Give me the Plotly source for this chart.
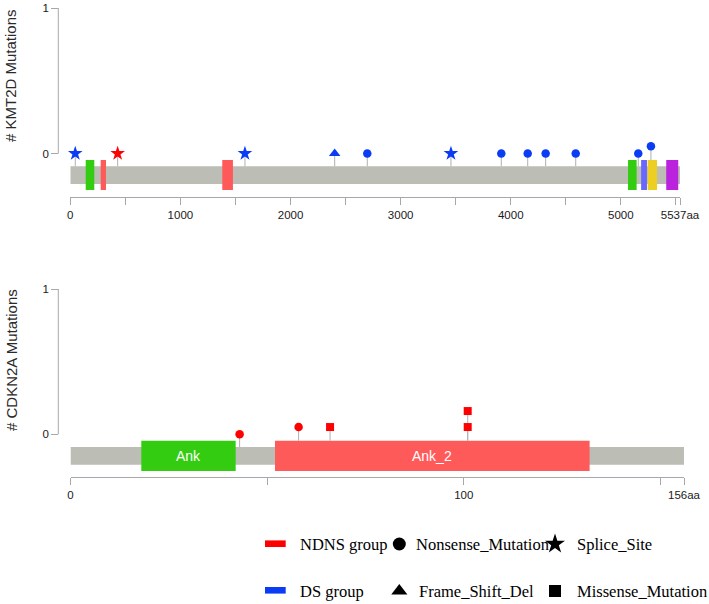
import plotly.graph_objects as go

# ---------------- data ----------------
kmt2d_length = 5537
kmt2d_domain_start = [140, 276, 1380, 5065, 5184, 5243, 5412]
kmt2d_domain_end = [218, 324, 1477, 5143, 5237, 5328, 5521]
kmt2d_domain_name = ["", "", "", "", "", "", ""]
kmt2d_mut_pos = [45, 430, 1586, 2401, 2697, 3457, 3914, 4154, 4317, 4590, 5158, 5273]
kmt2d_mut_type = ["Splice_Site", "Splice_Site", "Splice_Site", "Frame_Shift_Del",
                  "Nonsense_Mutation", "Splice_Site", "Nonsense_Mutation", "Nonsense_Mutation",
                  "Nonsense_Mutation", "Nonsense_Mutation", "Nonsense_Mutation", "Nonsense_Mutation"]
kmt2d_mut_group = ["DS", "NDNS", "DS", "DS", "DS", "DS", "DS", "DS", "DS", "DS", "DS", "DS"]
kmt2d_mut_count = [0, 0, 0, 0, 0, 0, 0, 0, 0, 0, 0, 0.05]
kmt2d_tick_vals = [0, 500, 1000, 1500, 2000, 2500, 3000, 3500, 4000, 4500, 5000, 5500, 5537]
kmt2d_tick_text = ["0", "", "1000", "", "2000", "", "3000", "", "4000", "", "5000", "", "5537aa"]

cdkn2a_length = 156
cdkn2a_domain_start = [18, 52]
cdkn2a_domain_end = [42, 132]
cdkn2a_domain_name = ["Ank", "Ank_2"]
cdkn2a_mut_pos = [43, 58, 66, 101, 101]
cdkn2a_mut_type = ["Nonsense_Mutation", "Nonsense_Mutation", "Missense_Mutation",
                   "Missense_Mutation", "Missense_Mutation"]
cdkn2a_mut_group = ["NDNS", "NDNS", "NDNS", "NDNS", "NDNS"]
cdkn2a_mut_count = [0, 0.05, 0.05, 0.05, 0.16]
cdkn2a_tick_vals = [0, 50, 100, 150, 156]
cdkn2a_tick_text = ["0", "", "100", "", "156aa"]

y_tick_vals = [0, 1]
y_tick_text = ["0", "1"]

group_labels = ["NDNS group", "DS group"]
group_keys = ["NDNS", "DS"]
type_labels = ["Nonsense_Mutation", "Splice_Site", "Frame_Shift_Del", "Missense_Mutation"]

# ---------------- styles ----------------
kmt2d_domain_colors = ["#33cc11", "#ff5a5a", "#ff5a5a", "#33cc11", "#6868ff", "#eccf20", "#bb22dd"]
cdkn2a_domain_colors = ["#33cc11", "#ff5a5a"]
group_color = {"NDNS": "#ff0000", "DS": "#0a3cf5"}
type_symbol = {"Nonsense_Mutation": "circle", "Splice_Site": "star",
               "Frame_Shift_Del": "triangle-up", "Missense_Mutation": "square"}
type_size = {"Nonsense_Mutation": 8.5, "Splice_Site": 11, "Frame_Shift_Del": 10,
             "Missense_Mutation": 8}
legend_size = {"Nonsense_Mutation": 13, "Splice_Site": 15, "Frame_Shift_Del": 14,
               "Missense_Mutation": 12}
BAR_COLOR = "#bcbdb5"
STEM_COLOR = "#b0b0b0"
AXIS_COLOR = "#a8a8a8"
SANS = "Liberation Sans, Arial, sans-serif"
SERIF = "Liberation Serif, Times New Roman, serif"

W, H = 709, 604


def px_x(p):
    return p / W


def px_y(p):
    return 1 - p / H


panels = [
    dict(title="# KMT2D Mutations", length=kmt2d_length,
         ds=kmt2d_domain_start, de=kmt2d_domain_end, dn=kmt2d_domain_name, dc=kmt2d_domain_colors,
         mp=kmt2d_mut_pos, mt=kmt2d_mut_type, mg=kmt2d_mut_group, mc=kmt2d_mut_count,
         tv=kmt2d_tick_vals, tt=kmt2d_tick_text,
         xa="x", ya="y", x0=70.3, x1=680.0, top=8.0, zero=153.5, axis=197.3, tcenter=76),
    dict(title="# CDKN2A Mutations", length=cdkn2a_length,
         ds=cdkn2a_domain_start, de=cdkn2a_domain_end, dn=cdkn2a_domain_name, dc=cdkn2a_domain_colors,
         mp=cdkn2a_mut_pos, mt=cdkn2a_mut_type, mg=cdkn2a_mut_group, mc=cdkn2a_mut_count,
         tv=cdkn2a_tick_vals, tt=cdkn2a_tick_text,
         xa="x2", ya="y2", x0=70.5, x1=684.0, top=289.0, zero=434.3, axis=477.3, tcenter=360),
]

# pixel offsets below the zero line
BAR_TOP_OFF, BAR_BOT_OFF = 12.7, 30.5
DOM_TOP_OFF, DOM_BOT_OFF = 6.5, 36.6
YAXIS_X = 58.3
TICK_FONT = dict(family=SANS, size=11.5, color="#1a1a1a")

fig = go.Figure()
shapes = []
annotations = []
layout_axes = {}

for i, p in enumerate(panels):
    unit = p["zero"] - p["top"]
    ymin = -(p["axis"] - p["zero"]) / unit
    bar_top, bar_bot = -BAR_TOP_OFF / unit, -BAR_BOT_OFF / unit
    dom_top, dom_bot = -DOM_TOP_OFF / unit, -DOM_BOT_OFF / unit
    xa, ya = p["xa"], p["ya"]
    xname = "xaxis" if xa == "x" else "xaxis" + xa[1:]
    yname = "yaxis" if ya == "y" else "yaxis" + ya[1:]

    layout_axes[xname] = dict(
        domain=[px_x(p["x0"]), px_x(p["x1"])], range=[0, p["length"]], anchor=ya,
        showline=True, linecolor=AXIS_COLOR, linewidth=1, ticks="outside", ticklen=7,
        tickcolor=AXIS_COLOR, tickwidth=1, tickvals=p["tv"], ticktext=p["tt"],
        tickfont=TICK_FONT, showgrid=False,
        zeroline=False, fixedrange=True, automargin=False)
    layout_axes[yname] = dict(
        domain=[px_y(p["axis"]), px_y(p["top"])], range=[ymin, 1], anchor="free",
        position=px_x(YAXIS_X), showline=False, ticks="outside", ticklen=7,
        tickcolor=AXIS_COLOR, tickwidth=1, tickvals=y_tick_vals, ticktext=y_tick_text,
        tickfont=TICK_FONT, showgrid=False,
        zeroline=False, fixedrange=True, automargin=False)

    # y-axis line from 0 to 1
    shapes.append(dict(type="line", xref="paper", yref=ya, x0=px_x(YAXIS_X), x1=px_x(YAXIS_X),
                       y0=0, y1=1, line=dict(color=AXIS_COLOR, width=1), layer="above"))
    # protein backbone
    shapes.append(dict(type="rect", xref=xa, yref=ya, x0=0, x1=p["length"], y0=bar_bot, y1=bar_top,
                       fillcolor=BAR_COLOR, line=dict(width=0), layer="below"))
    # domains
    for s, e, n, c in zip(p["ds"], p["de"], p["dn"], p["dc"]):
        shapes.append(dict(type="rect", xref=xa, yref=ya, x0=s, x1=e, y0=dom_bot, y1=dom_top,
                           fillcolor=c, line=dict(width=0), layer="below"))
        if n:
            annotations.append(dict(x=(s + e) / 2, y=(bar_top + bar_bot) / 2, xref=xa, yref=ya,
                                    text=n, showarrow=False,
                                    font=dict(family=SANS, size=14, color="white")))

    # stems
    sx, sy = [], []
    for pos, cnt in zip(p["mp"], p["mc"]):
        base = bar_top
        for s, e in zip(p["ds"], p["de"]):
            if s <= pos <= e:
                base = dom_top
        sx += [pos, pos, None]
        sy += [base, cnt, None]
    fig.add_trace(go.Scatter(x=sx, y=sy, xaxis=xa, yaxis=ya, mode="lines",
                             line=dict(color=STEM_COLOR, width=1), hoverinfo="skip",
                             showlegend=False, cliponaxis=False))

    # markers
    for g in group_keys:
        for t in type_labels:
            mx = [pos for pos, tt, gg in zip(p["mp"], p["mt"], p["mg"]) if tt == t and gg == g]
            my = [c for c, tt, gg in zip(p["mc"], p["mt"], p["mg"]) if tt == t and gg == g]
            if not mx:
                continue
            fig.add_trace(go.Scatter(x=mx, y=my, xaxis=xa, yaxis=ya, mode="markers",
                                     marker=dict(symbol=type_symbol[t], size=type_size[t],
                                                 color=group_color[g], line=dict(width=0)),
                                     showlegend=False, cliponaxis=False,
                                     name=f"{g} {t}"))

    # y title
    annotations.append(dict(x=px_x(11), y=px_y(p["tcenter"]), xref="paper", yref="paper",
                            text=p["title"], textangle=-90, showarrow=False,
                            xanchor="center", yanchor="middle",
                            font=dict(family=SANS, size=15, color="#2a2a2a")))

# ---------------- legend (drawn on a hidden full-figure pixel axis) ----------------
layout_axes["xaxis3"] = dict(domain=[0, 1], range=[0, W], anchor="y3", visible=False,
                             fixedrange=True, automargin=False)
layout_axes["yaxis3"] = dict(domain=[0, 1], range=[H, 0], anchor="x3", visible=False,
                             fixedrange=True, automargin=False)

row_y = [544.5, 591.5]
swatch_y = [543.7, 590.3]
SW_X0, SW_X1, TXT_X = 265, 285.7, 297.7
for k, (lab, key) in enumerate(zip(group_labels, group_keys)):
    shapes.append(dict(type="rect", xref="paper", yref="paper", x0=px_x(SW_X0), x1=px_x(SW_X1),
                       y0=px_y(swatch_y[k] + 3.3), y1=px_y(swatch_y[k] - 3.3),
                       fillcolor=group_color[key], line=dict(width=0)))
    annotations.append(dict(x=px_x(TXT_X), y=px_y(row_y[k]), xref="paper", yref="paper",
                            text=lab, showarrow=False, xanchor="left", yanchor="middle",
                            font=dict(family=SERIF, size=16.5, color="black")))

# symbol legend: 2 columns x 2 rows
sym_pos = {"Nonsense_Mutation": (399.3, 0, 414.0), "Splice_Site": (555.0, 0, 575.0),
           "Frame_Shift_Del": (399.3, 1, 417.3), "Missense_Mutation": (555.0, 1, 575.0)}
for t in type_labels:
    sxp, r, txp = sym_pos[t]
    fig.add_trace(go.Scatter(x=[sxp], y=[row_y[r] - 0.5], xaxis="x3", yaxis="y3", mode="markers",
                             marker=dict(symbol=type_symbol[t], size=legend_size[t], color="black",
                                         line=dict(width=0)),
                             showlegend=False, hoverinfo="skip", cliponaxis=False))
    annotations.append(dict(x=px_x(txp), y=px_y(row_y[r]), xref="paper", yref="paper",
                            text=t, showarrow=False, xanchor="left", yanchor="middle",
                            font=dict(family=SERIF, size=16.5, color="black")))

fig.update_layout(
    width=W, height=H, autosize=False,
    margin=dict(l=0, r=0, t=0, b=0, pad=0, autoexpand=False),
    paper_bgcolor="white", plot_bgcolor="rgba(0,0,0,0)",
    showlegend=False, shapes=shapes, annotations=annotations,
    **layout_axes,
)

fig.write_html(
    "out.html",
    config={"displayModeBar": False},
    post_script="document.body.style.margin='0';document.body.style.padding='0';"
                "document.documentElement.style.overflow='hidden';",
)
